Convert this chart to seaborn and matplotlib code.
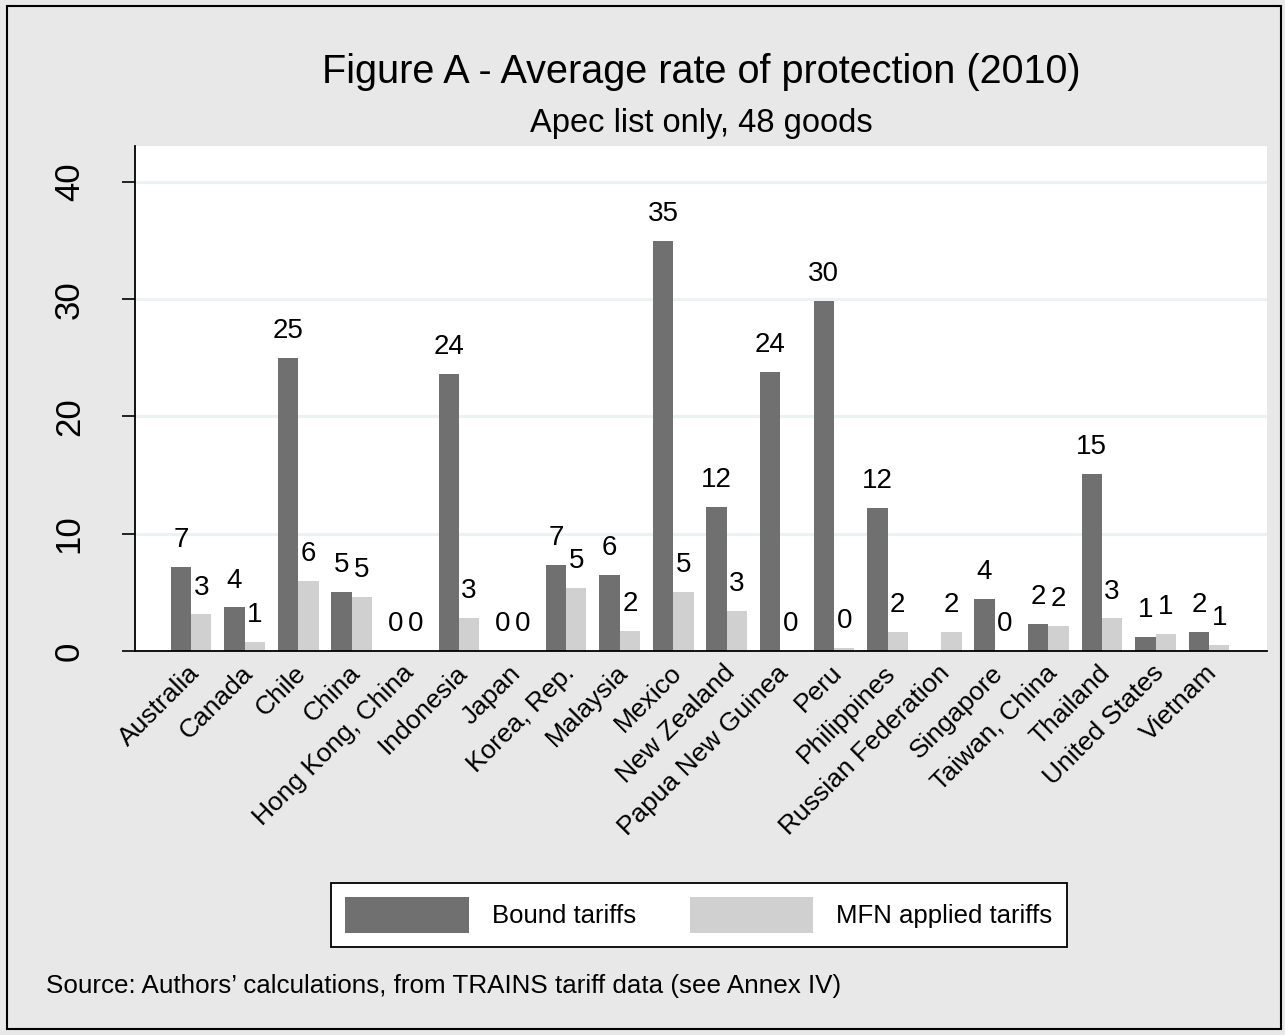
import numpy as np
import pandas as pd
import seaborn as sns
import matplotlib.pyplot as plt
import matplotlib.transforms as mtransforms
from matplotlib.patches import Rectangle, Patch

# Average tariff rates by APEC economy (48 goods on the APEC list)
countries = [
    "Australia", "Canada", "Chile", "China", "Hong Kong, China", "Indonesia",
    "Japan", "Korea, Rep.", "Malaysia", "Mexico", "New Zealand",
    "Papua New Guinea", "Peru", "Philippines", "Russian Federation",
    "Singapore", "Taiwan, China", "Thailand", "United States", "Vietnam",
]
bound_tariffs = [7.14, 3.71, 25.0, 5.01, 0.0, 23.6, 0.0, 7.37, 6.46, 35.0,
                 12.32, 23.77, 29.88, 12.23, np.nan, 4.42, 2.29, 15.1, 1.19, 1.64]
mfn_tariffs = [3.12, 0.76, 5.97, 4.62, 0.0, 2.8, 0.0, 5.38, 1.7, 5.01,
               3.45, 0.0, 0.25, 1.64, 1.64, 0.0, 2.12, 2.78, 1.42, 0.53]
series_names = ["Bound tariffs", "MFN applied tariffs"]
y_ticks = [0, 10, 20, 30, 40]

dark, light = "#707070", "#D0D0D0"
W, H = 1285, 1035

df = pd.DataFrame({
    "country": countries * 2,
    "series": [series_names[0]] * len(countries) + [series_names[1]] * len(countries),
    "value": bound_tariffs + mfn_tariffs,
})

sns.set_theme(style="white")
plt.rcParams["font.family"] = ["Liberation Sans", "DejaVu Sans"]
plt.rcParams.update({"text.color": "black", "axes.labelcolor": "black",
                     "xtick.color": "black", "ytick.color": "black"})

fig = plt.figure(figsize=(W / 100, H / 100), dpi=100, facecolor="#E8E8E8")
ax = fig.add_axes([135 / W, 1 - 651 / H, (1267 - 135) / W, (651 - 146) / H])
ax.set_facecolor("white")

sns.barplot(data=df, x="country", y="value", hue="series", order=countries,
            hue_order=series_names, palette=[dark, light], saturation=1,
            width=0.76, linewidth=0, errorbar=None, legend=False, ax=ax)

for cont in ax.containers:
    ax.bar_label(cont, fmt="%.0f", padding=10, fontsize=20, color="black")

ax.set_xlim(-1.045, len(countries) - 1 + 1.08)
ax.set_ylim(0, 43.07)
ax.set_yticks(y_ticks)
ax.set_yticklabels([str(t) for t in y_ticks], rotation=90, va="center")
ax.yaxis.grid(True, color="#EAF2F3", linewidth=2.2)
ax.xaxis.grid(False)
ax.set_axisbelow(True)
ax.tick_params(axis="y", left=True, length=9.4, width=1.2, pad=26,
               labelsize=25, direction="out", color="black", labelcolor="black")

ax.set_xticks(range(len(countries)))
ax.set_xticklabels(countries, rotation=45, ha="right", va="top",
                   rotation_mode="anchor", fontsize=19, color="black")
ax.tick_params(axis="x", bottom=False, length=0, pad=7)
shift = mtransforms.ScaledTranslation(-4 / 100, 0, fig.dpi_scale_trans)
for lbl in ax.get_xticklabels():
    lbl.set_transform(lbl.get_transform() + shift)

ax.set_xlabel("")
ax.set_ylabel("")
for side in ("top", "right"):
    ax.spines[side].set_visible(False)
for side in ("left", "bottom"):
    ax.spines[side].set_color("black")
    ax.spines[side].set_linewidth(1.3)

# Titles and note
fig.text(701 / W, 1 - 83 / H, "Figure A - Average rate of protection (2010)",
         ha="center", va="baseline", fontsize=28.5, color="black")
fig.text(701 / W, 1 - 132 / H, "Apec list only, 48 goods",
         ha="center", va="baseline", fontsize=23.5, color="black")
fig.text(46 / W, 1 - 993 / H,
         "Source: Authors\u2019 calculations, from TRAINS tariff data (see Annex IV)",
         ha="left", va="baseline", fontsize=18.7, color="black")

handles = [Patch(facecolor=dark, edgecolor="none"),
           Patch(facecolor=light, edgecolor="none")]
leg = fig.legend(handles, series_names, loc="upper center",
                 bbox_to_anchor=(699 / W, 1 - 883 / H), ncol=2, fontsize=18.5,
                 frameon=True, fancybox=False, edgecolor="black",
                 facecolor="white", framealpha=1, handlelength=4.8,
                 handleheight=1.75, handletextpad=0.9, columnspacing=2.1,
                 borderpad=0.55, borderaxespad=0)
leg.get_frame().set_linewidth(1.3)
for t in leg.get_texts():
    t.set_color("black")

# Outer frame around the whole graphic
fig.add_artist(Rectangle((7 / W, 1 - 1029 / H), (1281 - 7) / W, (1029 - 6) / H,
                         transform=fig.transFigure, fill=False,
                         edgecolor="black", linewidth=1.5))

fig.savefig("out.png", dpi=100, facecolor=fig.get_facecolor())
